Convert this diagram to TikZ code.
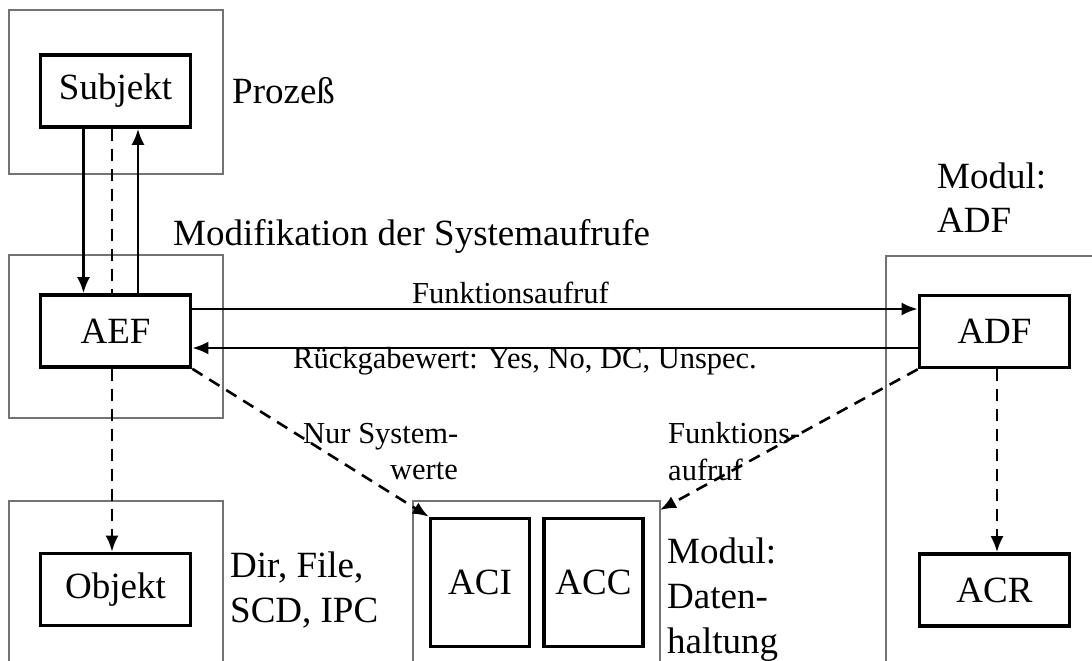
\documentclass[tikz,border=0pt]{standalone}
\usepackage{fontspec}
\setmainfont{Liberation Serif}
\usetikzlibrary{arrows.meta}
\newcommand\bigfnt{\fontsize{37}{44}\selectfont}
\newcommand\smlfnt{\fontsize{30.5}{36}\selectfont}
\begin{document}
\begin{tikzpicture}[x=1pt,y=-1pt,
  frame/.style={draw=black!55,line width=1.6pt},
  box/.style={draw,line width=3.6pt,minimum width=150pt,minimum height=72pt,inner sep=0pt,font=\bigfnt},
  tallbox/.style={draw,line width=3.6pt,minimum width=99pt,minimum height=128pt,inner sep=0pt,font=\bigfnt},
  conn/.style={line width=2.6pt,-{Latex[length=16pt,width=13pt]}},
  dsh/.style={line width=2.6pt,dash pattern=on 12pt off 8pt},
  lbig/.style={anchor=base west,inner sep=0pt,font=\bigfnt},
  lsml/.style={anchor=base west,inner sep=0pt,font=\smlfnt}]
\useasboundingbox (0,0) rectangle (1092,661);
% outer frames
\draw[frame] (9,10) rectangle (223,174);
\draw[frame] (9,255) rectangle (223,418);
\draw[frame] (9,661) -- (9,501) -- (223,501) -- (223,661);
\draw[frame] (413,661) -- (413,501) -- (660,501) -- (660,661);
\draw[frame] (886,661) -- (886,256) -- (1092,256);
% boxes
\node[box] (subj) at (115.5,91) {Subjekt};
\node[box] (aef) at (115.5,331) {AEF};
\node[box] (obj) at (115.5,589.5) {Objekt};
\node[tallbox] (aci) at (480,582.5) {ACI};
\node[tallbox] (acc) at (593.5,582.5) {ACC};
\node[box] (adf) at (994.5,331.5) {ADF};
\node[box] (acr) at (994.5,590) {ACR};
\coordinate (dh) at (660,510);
% labels
\node[lbig] (proz) at (232,103) {Prozeß};
\node[lbig] (modsys) at (173,245) {Modifikation der Systemaufrufe};
\node[lsml] (fa) at (412,303) {Funktionsaufruf};
\node[lsml] (rg) at (293,368) {Rückgabewert: Yes, No, DC, Unspec.};
\node[lbig] (madf1) at (937,188) {Modul:};
\node[lbig] (madf2) at (937,232) {ADF};
\node[lsml] (nur1) at (303,443) {Nur System-};
\node[lsml,anchor=base east] (nur2) at (458,479) {werte};
\node[lsml] (fk1) at (668,443) {Funktions-};
\node[lsml] (fk2) at (668,480) {aufruf};
\node[lbig] (dir1) at (230,577) {Dir, File,};
\node[lbig] (dir2) at (230,622) {SCD, IPC};
\node[lbig] (md1) at (667,563) {Modul:};
\node[lbig] (md2) at (667,608) {Daten-};
\node[lbig] (md3) at (667,653) {haltung};
% connectors
\draw[conn] ([xshift=-32pt]subj.south) -- ([xshift=-32pt]aef.north);
\draw[dsh] ([xshift=-3.5pt]subj.south) -- ([xshift=-3.5pt]aef.north);
\draw[conn] ([xshift=22.5pt]aef.north) -- ([xshift=22.5pt]subj.south);
\draw[conn,dsh] ([xshift=-3.5pt]aef.south) -- ([xshift=-3.5pt]obj.north);
\draw[conn] ([yshift=22pt]aef.east) -- ([yshift=22.5pt]adf.west);
\draw[conn] ([yshift=-16.5pt]adf.west) -- ([yshift=-17pt]aef.east);
\draw[conn,dsh] (aef.south east) -- (aci.north west);
\draw[conn,dsh] (adf.south west) -- (dh);
\draw[conn,dsh] ([xshift=2.5pt]adf.south) -- ([xshift=2.5pt]acr.north);
\end{tikzpicture}
\end{document}
